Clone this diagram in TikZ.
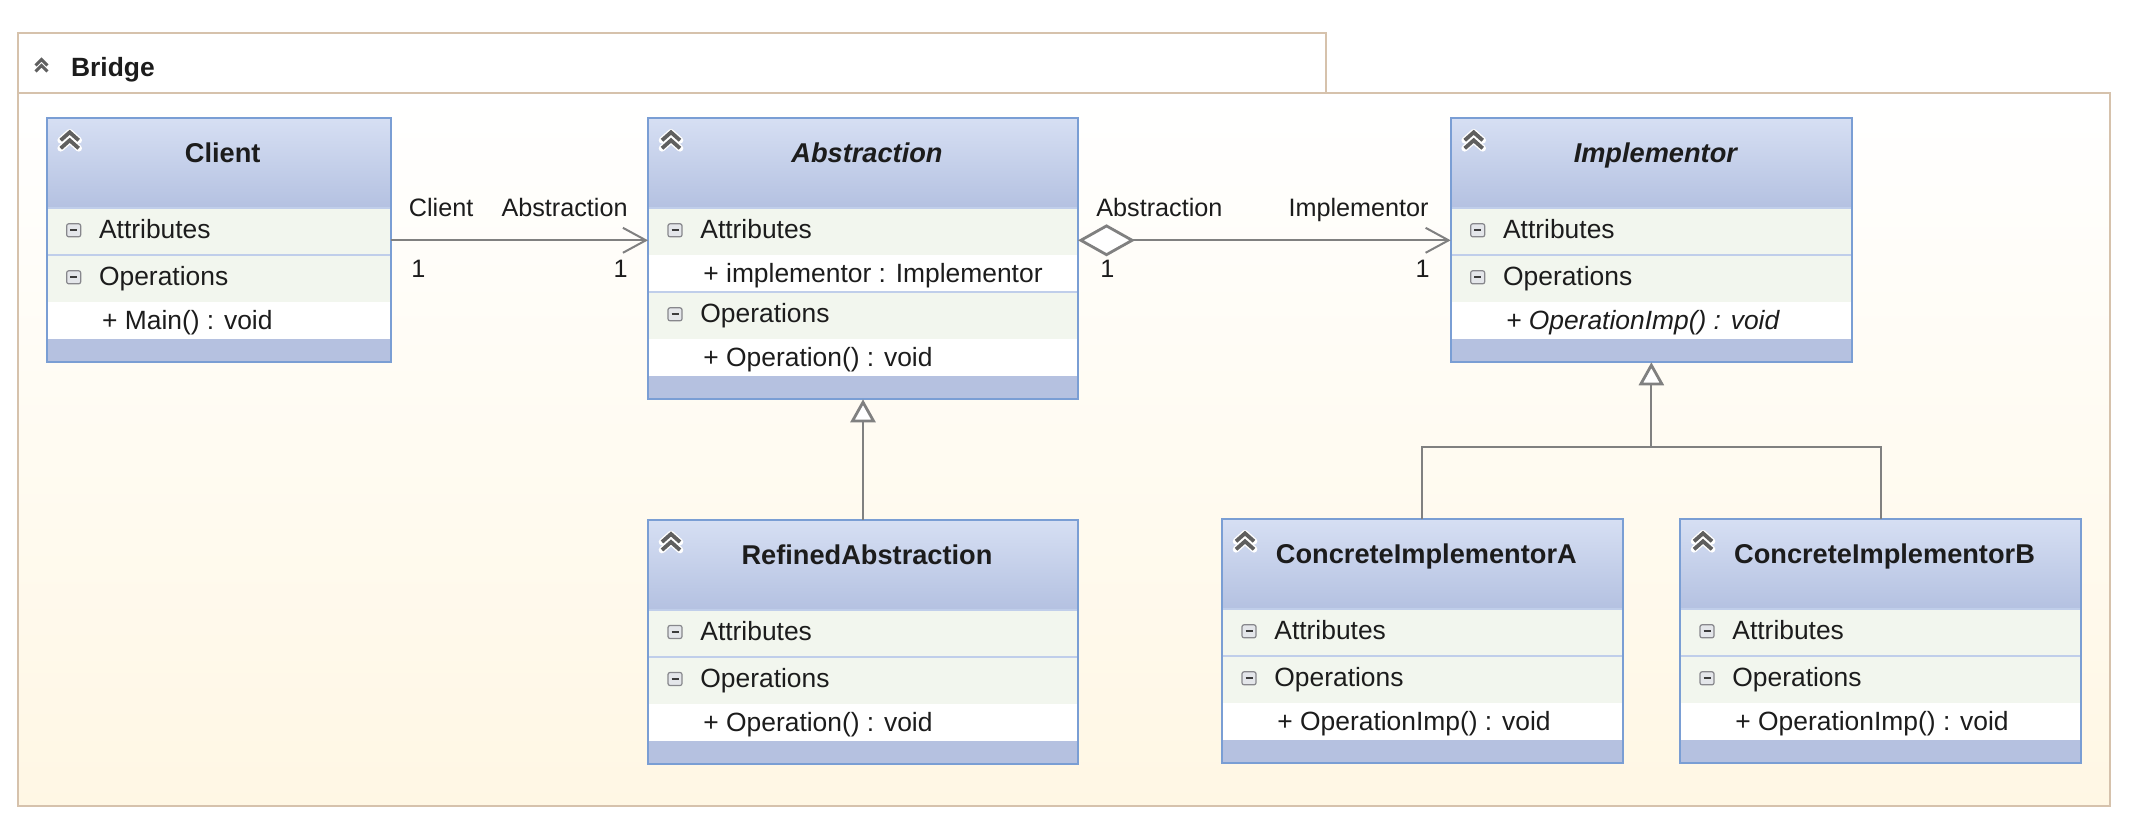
\documentclass[tikz,border=0pt]{standalone}
\usepackage{fontspec}
\setmainfont{Liberation Sans}
\usetikzlibrary{arrows.meta,fit,calc}

\definecolor{hdtop}{RGB}{214,223,243}
\definecolor{hdbot}{RGB}{180,193,225}
\definecolor{band}{RGB}{181,193,224}
\definecolor{boxline}{RGB}{122,158,212}
\definecolor{comprow}{RGB}{242,246,238}
\definecolor{sepline}{RGB}{192,206,234}
\definecolor{conn}{RGB}{128,128,128}
\definecolor{frameline}{RGB}{214,194,172}
\definecolor{framebot}{RGB}{255,247,228}
\definecolor{txt}{RGB}{28,28,28}
\definecolor{chev}{RGB}{95,95,95}
\definecolor{iconfill}{RGB}{228,230,234}
\definecolor{iconline}{RGB}{135,135,140}
\definecolor{iconminus}{RGB}{60,60,60}

\tikzset{
  body/.style={font=\fontsize{13.2pt}{15pt}\selectfont, text=txt, inner sep=0, anchor=base west},
  ttl/.style={font=\fontsize{13.6pt}{16pt}\selectfont\bfseries, text=txt, inner sep=0, anchor=base},
  lbl/.style={font=\fontsize{12.6pt}{15pt}\selectfont, text=txt, inner sep=0},
  conline/.style={draw=conn, line width=1pt},
}

% double chevron: cx, top y, half width, drop, stroke width
\newcommand\dchev[5]{%
  \foreach \o in {0,#4}{\draw[white,line width=#5+1.4pt,line cap=round,line join=round] (#1-#3,#2+\o+#4) -- (#1,#2+\o) -- (#1+#3,#2+\o+#4);}
  \foreach \o in {0,#4}{\draw[chev,line width=#5,line join=miter] (#1-#3,#2+\o+#4) -- (#1,#2+\o) -- (#1+#3,#2+\o+#4);}
}
% collapse icon
\newcommand\minusicon[2]{%
  \draw[iconline, fill=iconfill, rounded corners=1pt, line width=0.6pt] (#1-7,#2-6.5) rectangle (#1+7,#2+6.5);
  \draw[iconminus, line width=1.1pt] (#1-3.5,#2) -- (#1+3.5,#2);
}
% class box pieces
\newcommand\ubox[4]{%
  \xdef\bN{#1}\xdef\bL{#2}\xdef\bT{#3}\xdef\bR{#4}%
  \pgfmathsetmacro\hb{#3+90}\xdef\bY{\hb}%
  \shade[top color=hdtop, bottom color=hdbot] (#2,#3) rectangle (#4,\bY);
  \dchev{#2+23}{#3+14}{9}{8}{1.9pt}
}
\newcommand\utitle[1]{%
  \pgfmathsetmacro\cx{(\bL+\bR)/2+4}%
  \node[ttl] (\bN-title) at (\cx,\bT+44) {#1};
}
\newcommand\ucomp[2]{%
  \pgfmathsetmacro\yb{\bY+47}%
  \fill[comprow] (\bL,\bY) rectangle (\bR,\yb);
  \draw[sepline, line width=1pt] (\bL,\bY) -- (\bR,\bY);
  \minusicon{\bL+27}{\bY+22}
  \node[body] (\bN-#1) at (\bL+52,\bY+30) {#2};
  \xdef\bY{\yb}%
}
\newcommand\uitem[2]{%
  \pgfmathsetmacro\yb{\bY+37}%
  \fill[white] (\bL,\bY) rectangle (\bR,\yb);
  \node[body] (\bN-#1) at (\bL+55,\bY+27) {#2};
  \xdef\bY{\yb}%
}
\newcommand\uend{%
  \pgfmathsetmacro\yb{\bY+23}%
  \fill[band] (\bL,\bY) rectangle (\bR,\yb);
  \node[draw=boxline, line width=1pt, inner sep=0, outer sep=0, fit={(\bL,\bT) (\bR,\yb)}] (\bN) {};
}

\begin{document}
\begin{tikzpicture}[x=0.5pt,y=-0.5pt]
\useasboundingbox (0,0) rectangle (2136,834);
\fill[white] (0,0) rectangle (2136,834);

% package frame
\draw[frameline, line width=1pt, fill=white] (18.3,32.7) rectangle (1325.5,93.3);
\shade[top color=white, bottom color=framebot] (18.3,93.3) rectangle (2110,806);
\draw[frameline, line width=1pt] (18.3,93.3) rectangle (2110,806);
\dchev{41.5}{59.5}{6}{6}{1.5pt}
\node[ttl, anchor=base west, font=\fontsize{13.2pt}{16pt}\selectfont\bfseries] (frame-title) at (70.7,76.7) {Bridge};

% classes
\ubox{client}{46.7}{118.3}{390.7}
\utitle{Client}
\ucomp{attr}{Attributes}
\ucomp{ops}{Operations}
\uitem{op1}{+ Main() : void}
\uend

\ubox{abstraction}{648}{118.3}{1078}
\utitle{\itshape Abstraction}
\ucomp{attr}{Attributes}
\uitem{at1}{+ implementor : Implementor}
\ucomp{ops}{Operations}
\uitem{op1}{+ Operation() : void}
\uend

\ubox{implementor}{1450.7}{118.3}{1852}
\utitle{\itshape Implementor}
\ucomp{attr}{Attributes}
\ucomp{ops}{Operations}
\uitem{op1}{\itshape + OperationImp() : void}
\uend

\ubox{refined}{648}{520}{1078}
\utitle{RefinedAbstraction}
\ucomp{attr}{Attributes}
\ucomp{ops}{Operations}
\uitem{op1}{+ Operation() : void}
\uend

\ubox{cia}{1222}{519.3}{1622.7}
\utitle{ConcreteImplementorA}
\ucomp{attr}{Attributes}
\ucomp{ops}{Operations}
\uitem{op1}{+ OperationImp() : void}
\uend

\ubox{cib}{1680}{519.3}{2081}
\utitle{ConcreteImplementorB}
\ucomp{attr}{Attributes}
\ucomp{ops}{Operations}
\uitem{op1}{+ OperationImp() : void}
\uend

% connectors
\draw[conline, -{Straight Barb[length=11.5pt,width=12.5pt]}] (client.east) -- (client.east -| abstraction.west);
\draw[conline, {Diamond[length=28.5pt,width=16pt,fill=white,line width=1.4pt]}-{Straight Barb[length=11.5pt,width=12.5pt]}]
  (implementor.west -| abstraction.east) -- (implementor.west);
\draw[conline, -{Triangle[length=11.5pt,width=12.5pt,fill=white,line width=1.4pt]}] (refined.north) -- (abstraction.south);
\coordinate (jn) at (implementor.south |- 0,447.3);
\draw[conline] (cia.north) |- (jn) -| (cib.north);
\draw[conline, -{Triangle[length=11.5pt,width=12.5pt,fill=white,line width=1.4pt]}] (jn) -- (implementor.south);

% association end labels
\node[lbl, anchor=base west] (l-client) at (408.5,217) {Client};
\node[lbl, anchor=base east] (l-abs1) at (628,217) {Abstraction};
\node[lbl, anchor=base west] (m-client) at (411,278) {1};
\node[lbl, anchor=base east] (m-abs1) at (628,278) {1};
\node[lbl, anchor=base west] (l-abs2) at (1096,217) {Abstraction};
\node[lbl, anchor=base west] (m-abs2) at (1100,278) {1};
\node[lbl, anchor=base east] (l-impl) at (1429,217) {Implementor};
\node[lbl, anchor=base east] (m-impl) at (1430,278) {1};
\end{tikzpicture}
\end{document}
